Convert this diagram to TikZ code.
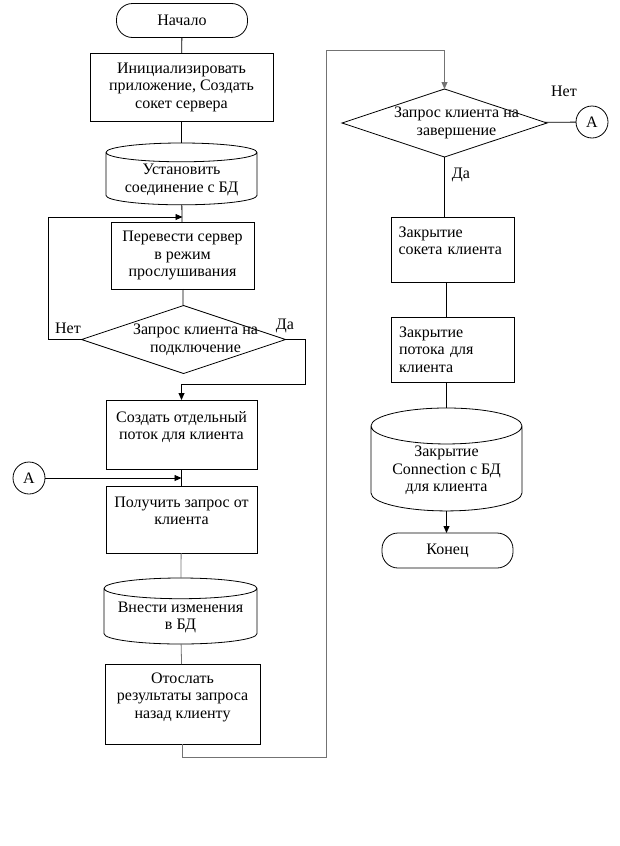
\documentclass[tikz,border=0pt]{standalone}
\usepackage{fontspec}
\setmainfont{Liberation Serif}
\usetikzlibrary{shapes.geometric, arrows.meta}

\begin{document}
\begin{tikzpicture}[x=1pt, y=-1pt, font=\fontsize{16}{17.5}\selectfont, line width=0.8pt,
	every node/.style={draw, align=center, inner sep=2pt, outer sep=0pt},
	every label/.style={draw=none, align=center, xshift=12pt},
	blok/.style={rectangle, minimum height=67pt},
	blokl/.style={blok, align=left, inner xsep=7.5pt, text width=108pt},
	nach/.style={rectangle, rounded corners=16pt, minimum width=131pt, minimum height=34pt},
	bd/.style={cylinder, shape border rotate=90, aspect=0.16, anchor=north},
	vybor/.style={diamond, minimum width=204pt, minimum height=68pt, inner sep=0pt},
	svyaz/.style={circle, minimum size=32pt, inner sep=0pt},
	metka/.style={draw=none},
	sery/.style={draw=black!55},
	strel/.style={-{Triangle[length=7pt, width=6pt]}},
	line join=miter]

	\useasboundingbox (0,0) rectangle (620,846);

	% Левая колонка
	\node[nach] (nachalo) at (182,20.5) {Начало};
	\node[blok, minimum width=183pt, minimum height=68pt] (init) at (181.5,87) {Инициализировать\\приложение, Создать\\сокет сервера};
	\node[bd, minimum width=151pt, minimum height=55pt] (bd1) at (181.5,143) {Установить\\соединение с БД};
	\node[blok, minimum width=143pt] (slush) at (182.5,255.5) {Перевести сервер\\в режим\\прослушивания};
	\node[vybor, label={center:Запрос клиента на\\подключение}] (podkl) at (183.5,339.5) {};
	\node[blok, minimum width=151pt, minimum height=69pt] (potok) at (181.5,434.5) {Создать отдельный\\поток для клиента\\~};
	\node[svyaz] (a1) at (29,478) {А};
	\node[blok, minimum width=151pt] (zapros) at (181.5,519.5) {Получить запрос от\\клиента\\~};
	\node[bd, minimum width=153pt, minimum height=66pt] (bd2) at (180.5,578) {Внести изменения\\в БД};
	\node[blok, minimum width=155pt, minimum height=80pt] (otvet) at (182.5,704) {Отослать\\результаты запроса\\назад клиенту\\~};

	\node[metka] (net1) at (68,328) {Нет};
	\node[metka] (da1) at (285,326) {Да};

	% Правая колонка
	\node[vybor, minimum width=205pt, label={center:Запрос клиента на\\завершение}] (zaversh) at (444.5,123) {};
	\node[svyaz] (a2) at (592,122) {А};
	\node[blokl, minimum height=65pt] (soket) at (452.5,249.5) {Закрытие\\сокета клиента\\~};
	\node[blokl, minimum height=65pt] (potokz) at (453,349.5) {Закрытие\\потока для\\клиента};
	\node[bd, aspect=0.32, minimum width=151pt, minimum height=95pt] (bd3) at (446.5,408) {Закрытие\\Connection с БД\\для клиента};
	\node[nach, minimum height=35pt] (konec) at (447.5,550.5) {Конец};

	\node[metka] (net2) at (564,91) {Нет};
	\node[metka] (da2) at (461,175) {Да};

	% Связи
	\coordinate (vhod1) at ([yshift=5pt]slush.north);
	\coordinate (vhod2) at ([yshift=8pt]zapros.north);
	\draw (nachalo) -- (init);
	\draw (init) -- (bd1);
	\draw (bd1) -- (slush);
	\draw (slush) -- (podkl);
	\draw[strel] (podkl.west) -- ++(-33,0) |- (vhod1);
	\draw[strel] (podkl.east) -- ++(20,0) |- ([yshift=16pt]potok.north) -- (potok.north);
	\draw (potok) -- (zapros);
	\draw[strel] (a1) -- (vhod2);
	\draw[sery] (zapros) -- (bd2);
	\draw[sery] (bd2) -- (otvet);
	\draw[sery, strel] (otvet.south) -- ++(0,13) -| (326,50) -| (zaversh.north);

	\draw (zaversh) -- (a2);
	\draw (zaversh.south) -- (zaversh.south |- soket.north);
	\draw (bd3.north |- soket.south) -- (bd3.north |- potokz.north);
	\draw (bd3.north |- potokz.south) -- (bd3.north);
	\draw[strel] (bd3.south) -- (bd3.south |- konec.north);
\end{tikzpicture}
\end{document}
